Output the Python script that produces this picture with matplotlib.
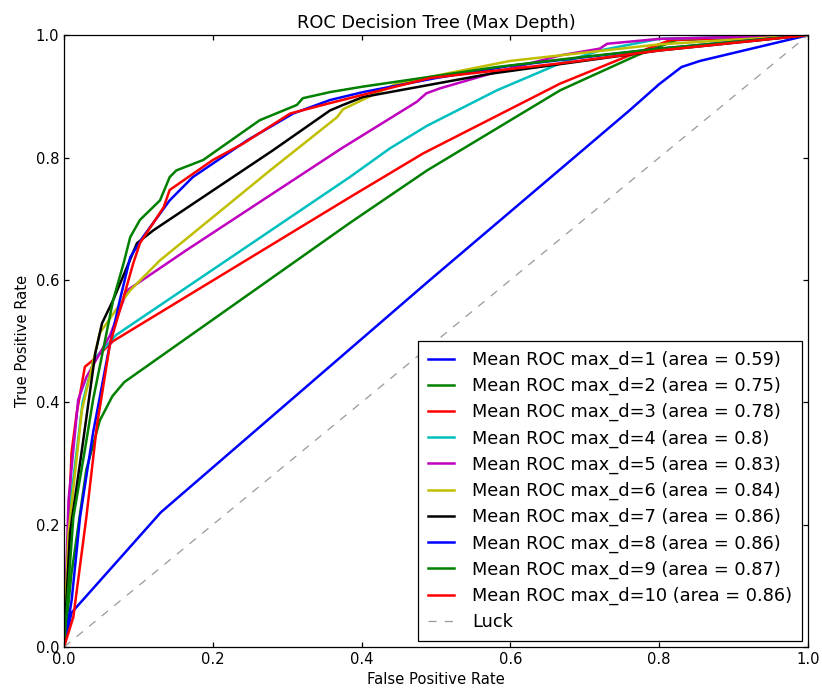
import matplotlib
matplotlib.use("Agg")
import matplotlib.pyplot as plt

# mean ROC curves, one per max_depth
fpr_d1 = [0, 0.010, 0.13, 0.49, 0.76, 0.80, 0.83, 0.855, 1.0]
tpr_d1 = [0, 0.056, 0.22, 0.598, 0.877, 0.92, 0.948, 0.958, 1.0]

fpr_d2 = [0, 0.01, 0.03, 0.048, 0.065, 0.081, 0.384, 0.488, 0.667, 0.77, 0.823, 1.0]
tpr_d2 = [0, 0.12, 0.29, 0.37, 0.41, 0.433, 0.693, 0.779, 0.91, 0.967, 0.992, 1.0]

fpr_d3 = [0, 0.010, 0.017, 0.028, 0.039, 0.066, 0.384, 0.483, 0.667, 0.756, 0.815, 1.0]
tpr_d3 = [0, 0.317, 0.382, 0.458, 0.469, 0.50, 0.735, 0.807, 0.921, 0.965, 0.992, 1.0]

fpr_d4 = [0, 0.01, 0.025, 0.04, 0.07, 0.384, 0.438, 0.488, 0.582, 0.667, 0.72, 0.80, 1.0]
tpr_d4 = [0, 0.25, 0.40, 0.47, 0.51, 0.768, 0.815, 0.852, 0.91, 0.954, 0.975, 0.994, 1.0]

fpr_d5 = [0, 0.006, 0.019, 0.03, 0.062, 0.085, 0.165, 0.373, 0.474, 0.487, 0.505,
          0.573, 0.667, 0.72, 0.73, 0.80, 1.0]
tpr_d5 = [0, 0.24, 0.404, 0.441, 0.51, 0.583, 0.649, 0.815, 0.891, 0.905, 0.913,
          0.937, 0.967, 0.978, 0.986, 0.994, 1.0]

fpr_d6 = [0, 0.006, 0.024, 0.048, 0.079, 0.089, 0.129, 0.277, 0.367, 0.375, 0.447, 0.6, 0.8, 1.0]
tpr_d6 = [0, 0.186, 0.387, 0.513, 0.567, 0.583, 0.632, 0.779, 0.866, 0.879, 0.921, 0.958, 0.985, 1.0]

fpr_d7 = [0, 0.008, 0.024, 0.042, 0.051, 0.066, 0.098, 0.12, 0.281, 0.3575, 0.375, 0.402, 0.573, 0.8, 1.0]
tpr_d7 = [0, 0.186, 0.322, 0.48, 0.529, 0.567, 0.66, 0.681, 0.812, 0.877, 0.886, 0.899, 0.937, 0.975, 1.0]

fpr_d8 = [0, 0.0103, 0.0215, 0.039, 0.06, 0.075, 0.089, 0.106, 0.142, 0.173, 0.246,
          0.308, 0.3575, 0.402, 0.5, 0.6, 0.8, 1.0]
tpr_d8 = [0, 0.077, 0.212, 0.35, 0.485, 0.567, 0.637, 0.67, 0.73, 0.768, 0.828,
          0.872, 0.894, 0.907, 0.93, 0.95, 0.978, 1.0]

fpr_d9 = [0, 0.0125, 0.028, 0.039, 0.066, 0.08, 0.089, 0.102, 0.129, 0.142, 0.151, 0.187,
          0.263, 0.313, 0.321, 0.3575, 0.402, 0.492, 0.582, 0.694, 0.8, 1.0]
tpr_d9 = [0, 0.212, 0.322, 0.404, 0.567, 0.627, 0.67, 0.698, 0.73, 0.768, 0.779, 0.796,
          0.861, 0.886, 0.897, 0.907, 0.916, 0.932, 0.948, 0.964, 0.978, 1.0]

fpr_d10 = [0, 0.0125, 0.03, 0.044, 0.062, 0.079, 0.093, 0.102, 0.134, 0.142, 0.2, 0.241,
           0.304, 0.3575, 0.492, 0.667, 0.8, 1.0]
tpr_d10 = [0, 0.049, 0.212, 0.36, 0.497, 0.567, 0.627, 0.66, 0.719, 0.747, 0.796, 0.823,
           0.872, 0.889, 0.93, 0.954, 0.975, 1.0]

depths = [1, 2, 3, 4, 5, 6, 7, 8, 9, 10]
areas = ["0.59", "0.75", "0.78", "0.8", "0.83", "0.84", "0.86", "0.86", "0.87", "0.86"]
fprs = [fpr_d1, fpr_d2, fpr_d3, fpr_d4, fpr_d5, fpr_d6, fpr_d7, fpr_d8, fpr_d9, fpr_d10]
tprs = [tpr_d1, tpr_d2, tpr_d3, tpr_d4, tpr_d5, tpr_d6, tpr_d7, tpr_d8, tpr_d9, tpr_d10]
colors = ['b', 'g', 'r', 'c', 'm', 'y', 'k', 'b', 'g', 'r']

fig = plt.figure(figsize=(8.22, 6.9), dpi=100)
ax = fig.add_subplot(111)
fig.subplots_adjust(left=0.0779, right=0.983, bottom=0.0623, top=0.949)

for d, a, x, y, c in zip(depths, areas, fprs, tprs, colors):
    ax.plot(x, y, color=c, lw=1.8,
            label='Mean ROC max_d=%d (area = %s)' % (d, a))

ax.plot([0, 1], [0, 1], linestyle=(0, (6.5, 6.5)), color=(0.6, 0.6, 0.6),
        lw=0.9, label='Luck')

ax.set_xlim(0, 1)
ax.set_ylim(0, 1)
ax.set_xticks([0, 0.2, 0.4, 0.6, 0.8, 1.0])
ax.set_yticks([0, 0.2, 0.4, 0.6, 0.8, 1.0])
ax.tick_params(direction='in', top=True, right=True, length=3.5, width=0.9,
               labelsize=10.6, pad=3.5)
for s in ax.spines.values():
    s.set_linewidth(0.9)

ax.set_xlabel('False Positive Rate', fontsize=10.6)
ax.set_ylabel('True Positive Rate', fontsize=10.6)
ax.set_title('ROC Decision Tree (Max Depth)', fontsize=12.75, pad=5)

leg = ax.legend(loc='lower right', fontsize=12.75, fancybox=False, framealpha=1,
                edgecolor='black', borderaxespad=0.35, borderpad=0.55,
                handlelength=1.5, handletextpad=1.0, labelspacing=0.45)
leg.get_frame().set_linewidth(0.9)

fig.savefig('out.png', dpi=100)
